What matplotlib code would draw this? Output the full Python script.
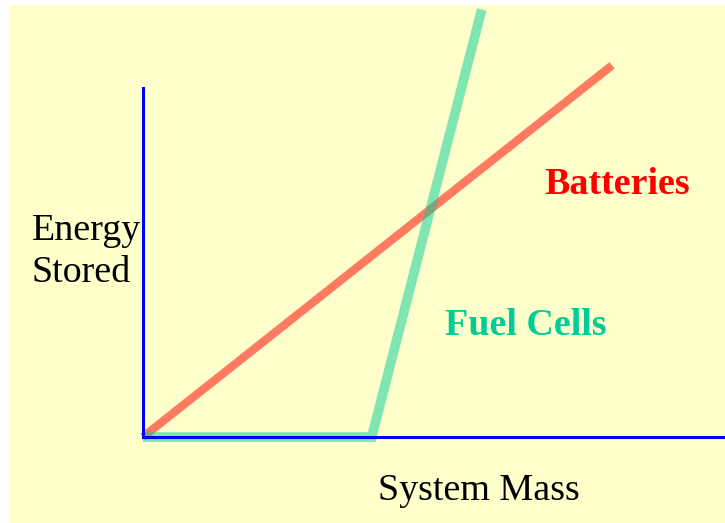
import matplotlib
matplotlib.use("Agg")
import matplotlib.pyplot as plt
from matplotlib.patches import Rectangle

# system mass vs. energy stored (arbitrary units)
battery_mass = [0.0, 8.06]
battery_energy = [0.0, 6.39]
fuelcell_mass = [0.0, 3.93, 5.82]
fuelcell_energy = [0.0, 0.0, 7.35]

W, H = 725, 523
fig = plt.figure(figsize=(W / 100, H / 100), dpi=100)
fig.patch.set_facecolor("white")
fig.patches.append(Rectangle((9 / W, 0), 1 - 9 / W, 1 - 5 / H,
                             transform=fig.transFigure, facecolor="#FFFFCC",
                             edgecolor="none", zorder=-5))

# axes origin at (143, 437) px, top of y-axis at 88 px, x-axis to the right edge
x0, y0, y1 = 143, 437, 88
ax = fig.add_axes([x0 / W, 1 - y0 / H, (W - x0) / W, (y0 - y1) / H])
ax.set_facecolor("none")
ax.set_xlim(0, 10)
ax.set_ylim(0, 6)
for s in ["top", "right"]:
    ax.spines[s].set_visible(False)
for s in ["left", "bottom"]:
    ax.spines[s].set_color("#0000FF")
    ax.spines[s].set_linewidth(2.2)
    ax.spines[s].set_zorder(3)
ax.set_xticks([])
ax.set_yticks([])

ax.plot(battery_mass, battery_energy, color="#FF0000", alpha=0.52,
        lw=6.0, solid_capstyle="butt", clip_on=False, zorder=2)
ax.plot(fuelcell_mass, fuelcell_energy, color="#00CC99", alpha=0.5,
        lw=7.0, solid_capstyle="butt", solid_joinstyle="miter",
        clip_on=False, zorder=2)

serif = ["Liberation Serif", "DejaVu Serif"]
fs = 27.4
fig.text(32 / W, 1 - 240 / H, "Energy", family=serif, fontsize=fs,
         ha="left", va="baseline", color="black")
fig.text(32 / W, 1 - 282 / H, "Stored", family=serif, fontsize=fs,
         ha="left", va="baseline", color="black")
fig.text(479 / W, 1 - 500 / H, "System Mass", family=serif, fontsize=fs,
         ha="center", va="baseline", color="black")
fig.text(617 / W, 1 - 194 / H, "Batteries", family=serif, fontsize=fs,
         fontweight="bold", ha="center", va="baseline", color="#FF0000")
fig.text(526 / W, 1 - 335 / H, "Fuel Cells", family=serif, fontsize=fs,
         fontweight="bold", ha="center", va="baseline", color="#00CC99")

fig.savefig("out.png", dpi=100)
